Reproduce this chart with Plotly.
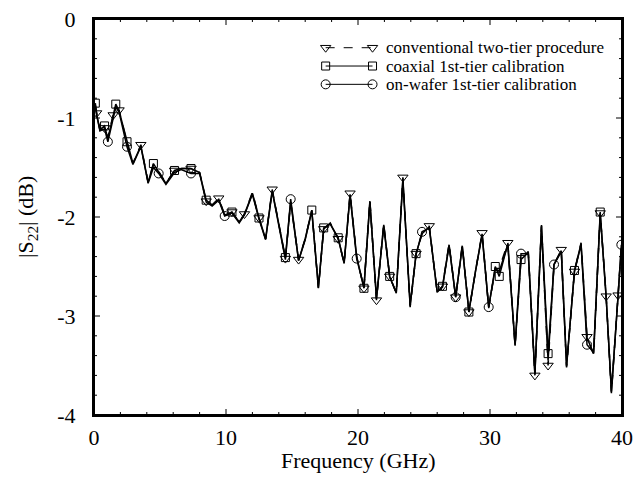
import plotly.graph_objects as go

freq = [0.1, 0.2, 0.45, 0.8, 1.05, 1.45, 1.65, 1.9, 2.5, 2.95, 3.55, 4.1, 4.5, 4.9, 5.45,
        6.1, 6.6, 7.35, 8.0, 8.5, 8.95, 9.45, 9.9, 10.45, 11.0, 11.4, 12.0, 12.5, 13.0, 13.5,
        14.0, 14.5, 14.9, 15.5, 16.0, 16.5, 17.0, 17.4, 17.9, 18.5, 18.95, 19.4, 19.9, 20.45,
        20.9, 21.4, 21.95, 22.4, 22.9, 23.4, 23.95, 24.4, 24.85, 25.4, 26.0, 26.4, 26.9, 27.4,
        27.9, 28.4, 28.9, 29.4, 29.9, 30.4, 30.7, 31.35, 31.9, 32.35, 32.9, 33.4, 33.9, 34.4,
        34.85, 35.4, 35.8, 36.4, 36.9, 37.35, 37.85, 38.35, 38.8, 39.2, 39.7, 39.95]

conventional = [-0.88, -0.95, -1.12, -1.10, -1.20, -0.97, -0.90, -0.92, -1.25, -1.46, -1.27, -1.65,
                -1.47, -1.54, -1.66, -1.53, -1.51, -1.51, -1.55, -1.84, -1.88, -1.81, -1.98, -1.95,
                -2.05, -1.97, -1.75, -2.01, -2.22, -1.72, -2.08, -2.42, -1.85, -2.43, -2.22, -1.93,
                -2.72, -2.12, -2.06, -2.22, -2.47, -1.76, -2.40, -2.72, -1.83, -2.84, -2.07, -2.60,
                -2.77, -1.60, -2.91, -2.37, -2.17, -2.09, -2.77, -2.70, -2.27, -2.81, -2.28, -2.96,
                -2.55, -2.16, -2.92, -2.52, -2.52, -2.26, -3.30, -2.42, -2.35, -3.60, -2.08, -3.50,
                -2.48, -2.33, -3.52, -2.55, -2.26, -3.21, -3.39, -1.96, -2.80, -3.78, -2.79, -2.30]

coaxial = [-0.85, -0.96, -1.12, -1.08, -1.21, -0.98, -0.86, -0.93, -1.24, -1.46, -1.28, -1.65,
           -1.46, -1.55, -1.66, -1.53, -1.51, -1.51, -1.55, -1.83, -1.88, -1.82, -1.98, -1.95,
           -2.05, -1.97, -1.76, -2.01, -2.22, -1.73, -2.08, -2.41, -1.85, -2.44, -2.22, -1.93,
           -2.72, -2.11, -2.07, -2.21, -2.47, -1.77, -2.40, -2.72, -1.84, -2.83, -2.08, -2.60,
           -2.77, -1.61, -2.90, -2.37, -2.17, -2.10, -2.76, -2.70, -2.28, -2.81, -2.29, -2.96,
           -2.55, -2.17, -2.91, -2.50, -2.60, -2.27, -3.30, -2.43, -2.36, -3.59, -2.09, -3.38,
           -2.48, -2.34, -3.51, -2.54, -2.27, -3.22, -3.38, -1.95, -2.81, -3.77, -2.80, -2.31]

onwafer = [-0.87, -0.97, -1.13, -1.11, -1.24, -0.99, -0.89, -0.94, -1.29, -1.47, -1.29, -1.66,
           -1.50, -1.56, -1.67, -1.55, -1.52, -1.56, -1.56, -1.85, -1.89, -1.83, -1.99, -1.96,
           -2.06, -1.98, -1.77, -2.02, -2.23, -1.74, -2.08, -2.43, -1.82, -2.44, -2.23, -1.94,
           -2.71, -2.12, -2.07, -2.22, -2.46, -1.78, -2.42, -2.71, -1.85, -2.82, -2.09, -2.61,
           -2.76, -1.63, -2.89, -2.38, -2.15, -2.11, -2.75, -2.71, -2.29, -2.81, -2.30, -2.95,
           -2.55, -2.18, -2.91, -2.52, -2.55, -2.28, -3.29, -2.37, -2.37, -3.58, -2.10, -3.45,
           -2.48, -2.35, -3.50, -2.55, -2.28, -3.29, -3.37, -1.97, -2.81, -3.76, -2.80, -2.28]

conv_marker_f = [0.2, 0.8, 1.45, 1.9, 3.55, 6.1, 7.35, 8.5, 9.45, 10.45, 11.4, 12.5, 13.5, 14.5,
                 15.5, 17.4, 18.5, 19.4, 20.45, 21.4, 22.4, 23.4, 24.4, 25.4, 26.4, 27.4, 28.4,
                 29.4, 31.35, 33.4, 34.4, 35.4, 36.4, 37.35, 38.35, 38.8, 39.7]
coax_marker_f = [0.1, 0.8, 1.65, 2.5, 4.5, 6.1, 7.35, 8.5, 10.45, 12.5, 14.5, 16.5, 17.4, 18.5,
                 20.45, 22.4, 24.4, 26.4, 28.4, 30.4, 30.7, 32.35, 34.4, 36.4, 38.35]
wafer_marker_f = [1.05, 2.5, 4.9, 7.35, 9.9, 14.9, 19.9, 24.85, 27.4, 29.9, 32.35, 34.85,
                  37.35, 39.95]

x_range = [0, 40]
y_range = [-4, 0]
x_ticks = [0, 10, 20, 30, 40]
x_ticklabels = ["0", "10", "20", "30", "40"]
x_minor = [2 * i for i in range(21)]
y_ticks = [0, -1, -2, -3, -4]
y_ticklabels = ["0", "-1", "-2", "-3", "-4"]
y_minor = [round(-0.2 * i, 2) for i in range(21)]

legend_labels = ["conventional two-tier procedure", "coaxial 1st-tier calibration",
                 "on-wafer 1st-tier calibration"]
# legend sample geometry in axis units (frequency / dB)
legend_x = [17.55, 21.1]
legend_text_x = 21.95
legend_y = [-0.29, -0.475, -0.66]

FONT = "Liberation Serif, Times New Roman, Times, serif"

W, H = 636, 498
ML, MR, MT, MB = 94, 14, 19, 83
px_x = (x_range[1] - x_range[0]) / (W - ML - MR)
px_y = (y_range[1] - y_range[0]) / (H - MT - MB)

fig = go.Figure()

series = [
    (conventional, conv_marker_f, "dash", "triangle-down-open", 9),
    (coaxial, coax_marker_f, "solid", "square-open", 8),
    (onwafer, wafer_marker_f, "solid", "circle-open", 9),
]

for vals, mf, dash, sym, msz in series:
    fig.add_trace(go.Scatter(x=freq, y=vals, mode="lines",
                             line=dict(color="black", width=1.5, dash=dash),
                             showlegend=False, hoverinfo="skip"))
for vals, mf, dash, sym, msz in series:
    idx = [freq.index(f) for f in mf]
    fig.add_trace(go.Scatter(x=[freq[i] for i in idx], y=[vals[i] for i in idx], mode="markers",
                             marker=dict(symbol=sym, size=msz, color="black",
                                         line=dict(color="black", width=1)),
                             showlegend=False, hoverinfo="skip"))

for (vals, mf, dash, sym, msz), ly, lab in zip(series, legend_y, legend_labels):
    fig.add_trace(go.Scatter(x=legend_x, y=[ly, ly], mode="lines+markers",
                             line=dict(color="black", width=1, dash=dash),
                             marker=dict(symbol=sym, size=msz, color="black",
                                         line=dict(color="black", width=1)),
                             showlegend=False, hoverinfo="skip"))
    fig.add_annotation(x=legend_text_x, y=ly, text=lab, showarrow=False,
                       xanchor="left", yanchor="middle",
                       font=dict(family=FONT, size=17, color="black"))

# inward ticks on all four sides, built from the tick arrays
tx, ty = [], []
for t in x_minor:
    ln = (6 if t in x_ticks else 3) * px_y
    tx += [t, t, None, t, t, None]
    ty += [y_range[0], y_range[0] + ln, None, y_range[1], y_range[1] - ln, None]
for t in y_minor:
    ln = (6 if t in y_ticks else 3) * px_x
    tx += [x_range[0], x_range[0] + ln, None, x_range[1], x_range[1] - ln, None]
    ty += [t, t, None, t, t, None]
fig.add_trace(go.Scatter(x=tx, y=ty, mode="lines", line=dict(color="black", width=1),
                         showlegend=False, hoverinfo="skip", cliponaxis=False))

# frame box
fig.add_shape(type="rect", xref="paper", yref="paper", x0=0, x1=1, y0=0, y1=1,
              line=dict(color="black", width=2), fillcolor="rgba(0,0,0,0)", layer="above")

# axis titles as annotations
fig.add_annotation(x=0.5, y=-0.115, xref="paper", yref="paper", text="Frequency (GHz)",
                   showarrow=False, xanchor="center", yanchor="middle",
                   font=dict(family=FONT, size=22, color="black"))
fig.add_annotation(x=-0.127, y=0.5, xref="paper", yref="paper", text="|S<sub>22</sub>| (dB)",
                   showarrow=False, xanchor="center", yanchor="middle", textangle=-90,
                   font=dict(family=FONT, size=22, color="black"))

base = dict(showgrid=False, zeroline=False, automargin=False,
            tickfont=dict(family=FONT, size=22, color="black"), ticks="",
            showline=True, linecolor="black", linewidth=2, mirror=True)

fig.update_layout(
    width=W, height=H,
    margin=dict(l=ML, r=MR, t=MT, b=MB),
    paper_bgcolor="white", plot_bgcolor="white",
    font=dict(family=FONT, color="black"),
    xaxis=dict(range=x_range, tickvals=x_ticks, ticktext=x_ticklabels,
               ticklabelstandoff=2, **base),
    yaxis=dict(range=y_range, tickvals=y_ticks, ticktext=y_ticklabels,
               ticklabelstandoff=12, **base),
)

fig.write_html("out.html", config={"displayModeBar": False},
               post_script="document.body.style.margin='0px';")
